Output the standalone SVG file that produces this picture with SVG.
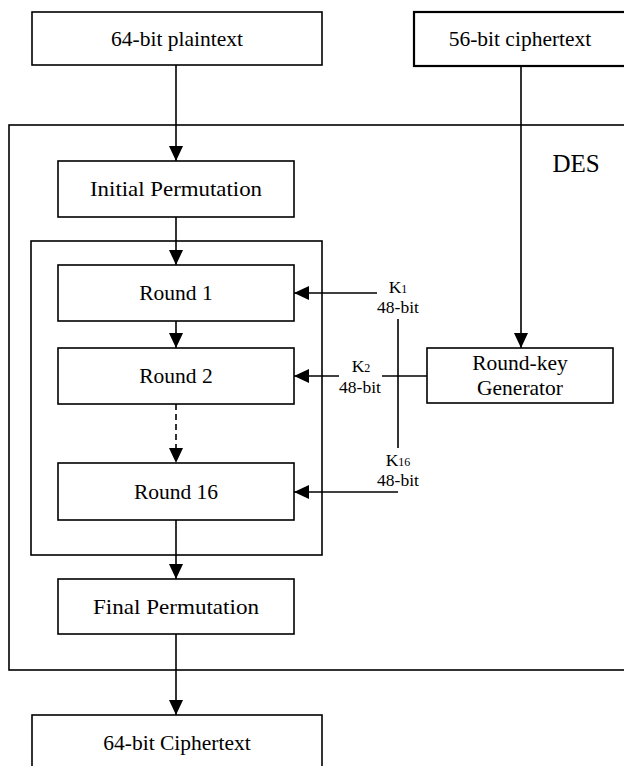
<svg xmlns="http://www.w3.org/2000/svg" width="624" height="766" viewBox="0 0 624 766">
<style>
.box{fill:#fff;stroke:#000;stroke-width:1.6}
.frame{fill:none;stroke:#000;stroke-width:1.6}
.t{font-family:"Liberation Serif","Times New Roman",serif;font-size:21.5px;fill:#000;text-anchor:middle}
.k{font-family:"Liberation Serif","Times New Roman",serif;font-size:17.5px;fill:#000;text-anchor:middle}
.sub{font-size:12px}
.c{fill:none;stroke:#000;stroke-width:1.6}
.dash{stroke-dasharray:6 4}
</style>
<defs>
<marker id="ah" markerUnits="userSpaceOnUse" markerWidth="15" markerHeight="14" refX="15" refY="7" orient="auto">
<path d="M0,0 L15,7 L0,14 z" fill="#000"/>
</marker>
</defs>
<rect width="624" height="766" fill="#fff"/>
<g id="des-frame">
<rect class="frame" x="9" y="125" width="640" height="545"/>
<text class="t" x="576" y="172" style="font-size:25px">DES</text>
</g>
<g id="rounds-frame">
<rect class="frame" x="31" y="241" width="291" height="314"/>
</g>
<g id="plaintext">
<rect class="box" x="32" y="12" width="290" height="53"/>
<text class="t" x="177" y="46">64-bit plaintext</text>
</g>
<g id="ciphertext56">
<rect class="box" x="414" y="12" width="214" height="54" style="stroke-width:2.2"/>
<text class="t" x="520" y="46">56-bit ciphertext</text>
</g>
<g id="initial-permutation">
<rect class="box" x="58" y="161" width="236" height="56"/>
<text class="t" x="176" y="196" textLength="172" lengthAdjust="spacingAndGlyphs">Initial Permutation</text>
</g>
<g id="round1">
<rect class="box" x="58" y="265" width="236" height="56"/>
<text class="t" x="176" y="300">Round 1</text>
</g>
<g id="round2">
<rect class="box" x="58" y="348" width="236" height="56"/>
<text class="t" x="176" y="383">Round 2</text>
</g>
<g id="round16">
<rect class="box" x="58" y="463" width="236" height="57"/>
<text class="t" x="176" y="499">Round 16</text>
</g>
<g id="final-permutation">
<rect class="box" x="58" y="579" width="236" height="55"/>
<text class="t" x="176" y="614" textLength="166" lengthAdjust="spacingAndGlyphs">Final Permutation</text>
</g>
<g id="ciphertext64">
<rect class="box" x="32" y="715" width="290" height="70"/>
<text class="t" x="177" y="750">64-bit Ciphertext</text>
</g>
<g id="round-key-generator">
<rect class="box" x="427" y="348" width="186" height="55"/>
<text class="t" x="520" y="370">Round-key</text>
<text class="t" x="520" y="395">Generator</text>
</g>
<g id="connectors">
<path class="c" d="M176,65 V161" marker-end="url(#ah)"/>
<path class="c" d="M176,217 V265" marker-end="url(#ah)"/>
<path class="c" d="M176,321 V348" marker-end="url(#ah)"/>
<path class="c dash" d="M176,404 V463" marker-end="url(#ah)"/>
<path class="c" d="M176,520 V579" marker-end="url(#ah)"/>
<path class="c" d="M176,634 V715" marker-end="url(#ah)"/>
<path class="c" d="M521,66 V348" marker-end="url(#ah)"/>
<path class="c" d="M377,293 H294" marker-end="url(#ah)"/>
<path class="c" d="M339,376 H294" marker-end="url(#ah)"/>
<path class="c" d="M382,376 H427"/>
<path class="c" d="M398,492 H294" marker-end="url(#ah)"/>
<path class="c" d="M398,319 V448"/>
</g>
<g id="key-labels">
<text class="k" x="398" y="293">K<tspan class="sub">1</tspan></text>
<text class="k" x="398" y="313">48-bit</text>
<text class="k" x="361" y="372">K<tspan class="sub">2</tspan></text>
<text class="k" x="360" y="393">48-bit</text>
<text class="k" x="398" y="466">K<tspan class="sub">16</tspan></text>
<text class="k" x="398" y="486">48-bit</text>
</g>
</svg>
